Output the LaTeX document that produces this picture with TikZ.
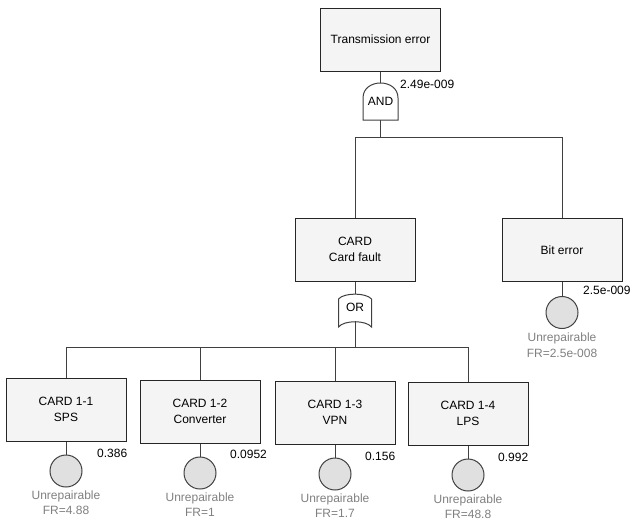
\documentclass[tikz,border=0pt]{standalone}
\usepackage{fontspec}
\setmainfont{Liberation Sans}
\usepackage{tikz}
\usetikzlibrary{positioning}
\definecolor{boxfill}{HTML}{F4F4F4}
\definecolor{evfill}{HTML}{E0E0E0}
\definecolor{wiregray}{HTML}{404040}
\definecolor{notegray}{HTML}{808080}

\begin{document}
\begin{tikzpicture}[x=1pt,y=-1pt, every node/.style={font=\fontsize{12}{16}\selectfont},
  faultbox/.style={draw=black!85,fill=boxfill,line width=1pt,minimum width=120pt,minimum height=63pt,align=center},
  basicev/.style={circle,draw=wiregray,fill=evfill,line width=1pt,minimum size=32pt,inner sep=0pt},
  gatebody/.style={draw=wiregray,fill=white,line width=1pt},
  wire/.style={draw=wiregray,line width=1pt},
  note/.style={text=notegray,align=center,inner sep=0pt,font=\fontsize{12}{15.5}\selectfont},
  prob/.style={anchor=west,inner sep=0pt}]
  \useasboundingbox (0,0) rectangle (634,522);

  % top event and AND gate
  \node[faultbox] (top) at (380.5,39.5) {Transmission error};
  \draw[gatebody] (363,120) -- (363,98) .. controls (363,78) and (398,78) .. (398,98) -- (398,120) -- cycle;
  \node[inner sep=0pt,minimum width=35pt,minimum height=37pt] (andg) at (380.5,101.5) {AND};
  \node[prob] (ptop) at (400,84) {2.49e-009};

  % second level
  \node[faultbox] (card) at (355,249.5) {CARD\\Card fault};
  \node[faultbox] (bit) at (562,250) {Bit error};
  \node[basicev,below=14pt of bit] (ebit) {};
  \node[note,below=4pt of ebit] (nbit) {Unrepairable\\FR=2.5e-008};
  \node[prob] (pbit) at (583,290) {2.5e-009};

  % OR gate
  \draw[gatebody] (338.5,327) -- (338.5,299) .. controls (344,292.5) and (366,292.5) .. (371.5,299) -- (371.5,327) .. controls (366,320) and (344,320) .. cycle;
  \node[inner sep=0pt,minimum width=33pt,minimum height=27pt] (orgate) at (355,307.5) {\raisebox{-3pt}{OR}};

  % card items
  \node[faultbox] (c11) at (66,409.5) {CARD 1-1\\SPS};
  \node[faultbox] (c12) at (200,411.5) {CARD 1-2\\Converter};
  \node[faultbox] (c13) at (335,412.5) {CARD 1-3\\VPN};
  \node[faultbox] (c14) at (468,413.5) {CARD 1-4\\LPS};
  \foreach \c in {c11,c12,c13,c14}
    \node[basicev,below=13pt of \c] (e\c) {};
  \node[note,below=3pt of ec11] (nc11) {Unrepairable\\FR=4.88};
  \node[note,below=3pt of ec12] (nc12) {Unrepairable\\FR=1};
  \node[note,below=3pt of ec13] (nc13) {Unrepairable\\FR=1.7};
  \node[note,below=3pt of ec14] (nc14) {Unrepairable\\FR=48.8};
  \node[prob] (pc11) at (97,453) {0.386};
  \node[prob] (pc12) at (230,454) {0.0952};
  \node[prob] (pc13) at (365,456) {0.156};
  \node[prob] (pc14) at (498,457) {0.992};

  % connectors
  \draw[wire] (top.south) -- (andg.north);
  \draw[wire] (andg.south) -- ++(0,17) -| (card.north);
  \draw[wire] (andg.south) -- ++(0,17) -| (bit.north);
  \draw[wire] (card.south) -- (orgate.north);
  \draw[wire] (bit.south) -- (ebit.north);
  \foreach \c in {c11,c12,c13,c14}{
    \draw[wire] (orgate.south) -- ++(0,26) -| (\c.north);
    \draw[wire] (\c.south) -- (e\c.north);
  }
\end{tikzpicture}
\end{document}
